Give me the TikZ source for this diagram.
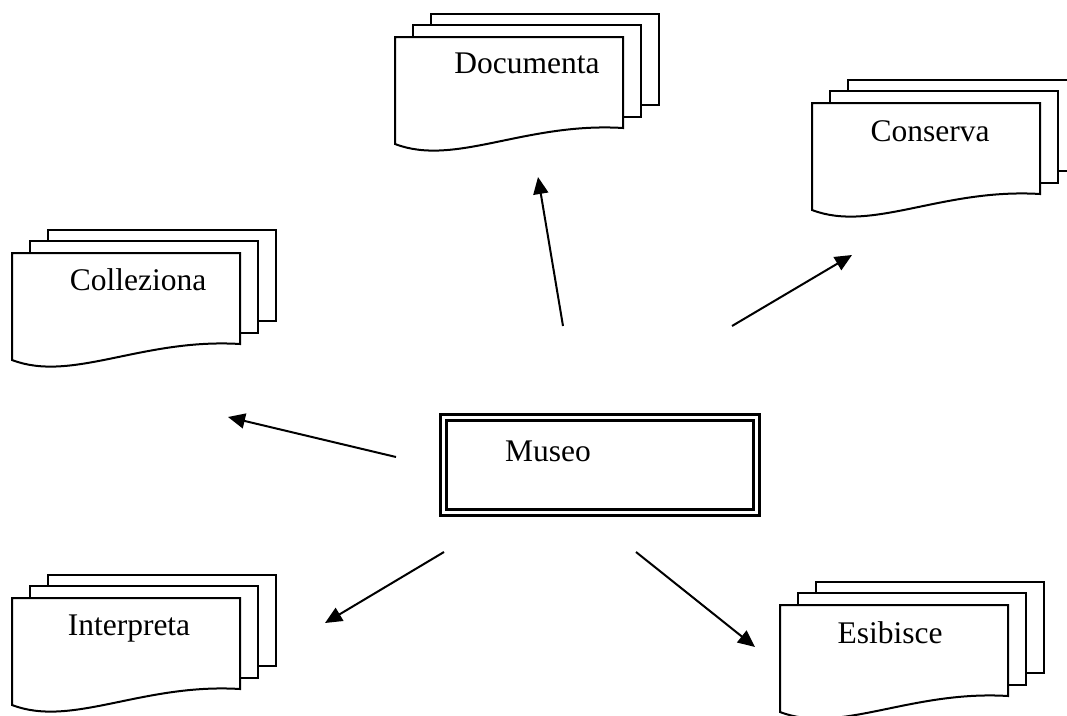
\documentclass[tikz,border=0pt]{standalone}
\usepackage{fontspec}
\setmainfont{Liberation Serif}
\usetikzlibrary{arrows.meta}
\tikzstyle{page}=[draw=black,fill=white,line width=2pt,line join=miter]
\tikzstyle{doctext}=[anchor=base,inner sep=0pt,font=\fontsize{31.5}{36}\selectfont]
\tikzstyle{museobox}=[draw=black,line width=3.5pt,double,double distance=2.5pt,minimum width=313pt,minimum height=95pt,inner sep=0pt]
\tikzstyle{link}=[line width=2pt,-{Triangle[length=17pt,width=15pt]}]

\begin{document}
\begin{tikzpicture}[x=1pt,y=-1pt]
  \clip (0,0) rectangle (1067,715);
  \fill[white] (0,0) rectangle (1067,715);
  % stacks of pages
  \foreach \name/\x/\y/\tx/\ty/\lbl in {Doc/395/37/527/73/Documenta,
                                        Con/812/103/930/141/Conserva,
                                        Col/12/253/138/290/Colleziona,
                                        Int/12/598/129/635/Interpreta,
                                        Esi/780/605/890/643/Esibisce}
  {
    \draw[page] (\x+36,\y-23) rectangle (\x+264,\y+68);
    \draw[page] (\x+18,\y-12) rectangle (\x+246,\y+80);
    \draw[page] (\x,\y) -- (\x+228,\y) -- (\x+228,\y+91)
      .. controls (\x+130,\y+85) and (\x+60,\y+130) .. (\x,\y+107) -- cycle;
    \node[doctext] (\name) at (\tx,\ty) {\lbl};
  }
  \node[museobox] (museo) at (600,465) {};
  \node[doctext] (museo-lbl) at (548,461) {Museo};
  % arrows
  \foreach \name/\sx/\sy/\ex/\ey in {Doc/563/326/538/177, Con/732/326/852/255,
                                     Col/396/457/228/417, Int/444/552/325/623,
                                     Esi/636/552/755/647}
  {
    \coordinate (\name-from) at (\sx,\sy);
    \coordinate (\name-to) at (\ex,\ey);
    \draw[link] (\name-from) -- (\name-to);
  }
\end{tikzpicture}
\end{document}
